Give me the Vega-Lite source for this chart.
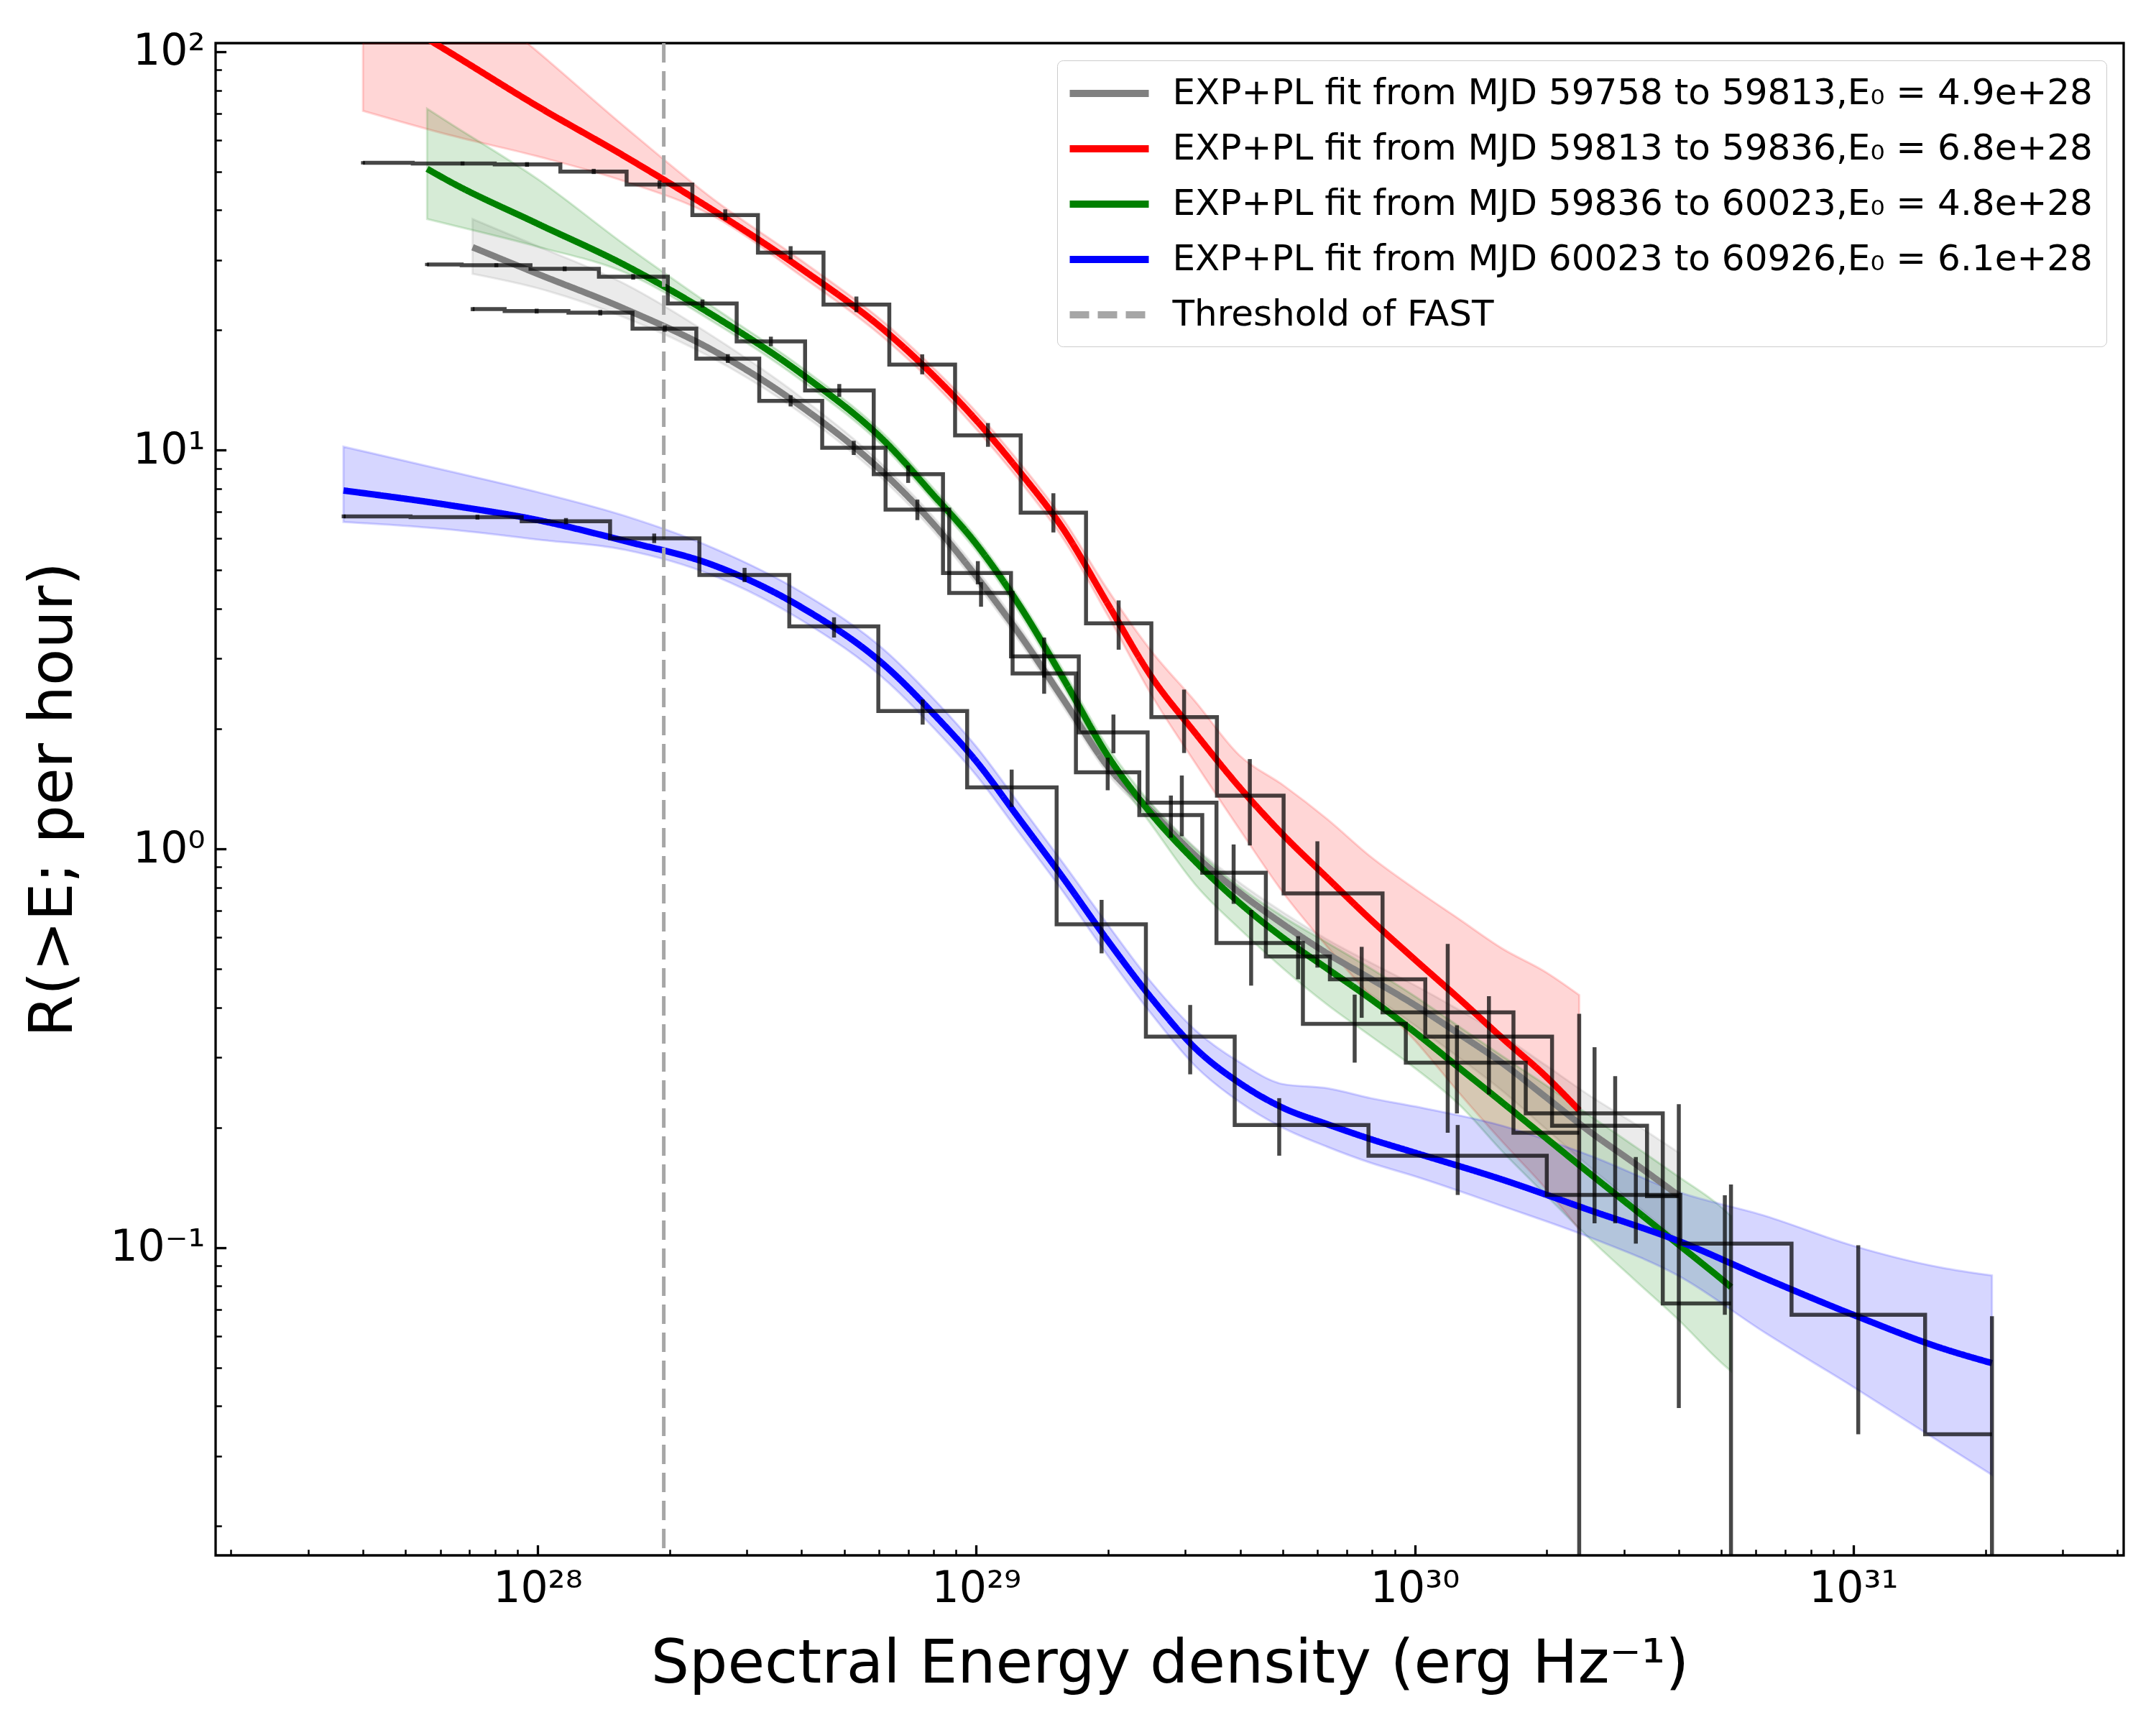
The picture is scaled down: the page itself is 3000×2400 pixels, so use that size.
{
  "$schema": "https://vega.github.io/schema/vega-lite/v6.json",
  "width": 2655,
  "height": 2104,
  "autosize": {"type": "none"},
  "padding": {"left": 300, "top": 60, "right": 45, "bottom": 236},
  "background": "white",
  "config": {
    "font": "DejaVu Sans",
    "view": {"stroke": "black", "strokeWidth": 3.3},
    "legend": {
      "orient": "top-right",
      "offset": 24,
      "padding": 19,
      "rowPadding": 25,
      "labelFont": "DejaVu Sans",
      "labelFontSize": 50,
      "labelColor": "black",
      "labelLimit": 3000,
      "symbolSize": 1936,
      "symbolStrokeWidth": 10,
      "symbolOffset": 26.5,
      "labelOffset": 61,
      "fillColor": "rgba(255,255,255,0.8)",
      "strokeColor": "#cccccc",
      "cornerRadius": 8
    }
  },
  "datasets": {
    "fits": [
      {"s": "p1", "x": 7.11e27, "y": 32.3, "lo": 27.7, "hi": 38.0},
      {"s": "p1", "x": 1e28, "y": 27.7, "lo": 25.5, "hi": 32.5},
      {"s": "p1", "x": 1.585e28, "y": 22.6, "lo": 21.5, "hi": 26.1},
      {"s": "p1", "x": 2.512e28, "y": 17.8, "lo": 17.0, "hi": 19.3},
      {"s": "p1", "x": 3.981e28, "y": 12.9, "lo": 12.4, "hi": 13.6},
      {"s": "p1", "x": 6.31e28, "y": 8.55, "lo": 8.20, "hi": 8.91},
      {"s": "p1", "x": 7.943e28, "y": 6.58, "lo": 6.31, "hi": 6.85},
      {"s": "p1", "x": 1e29, "y": 4.83, "lo": 4.63, "hi": 5.04},
      {"s": "p1", "x": 1.259e29, "y": 3.44, "lo": 3.30, "hi": 3.59},
      {"s": "p1", "x": 1.585e29, "y": 2.36, "lo": 2.26, "hi": 2.45},
      {"s": "p1", "x": 1.995e29, "y": 1.611, "lo": 1.545, "hi": 1.679},
      {"s": "p1", "x": 2.512e29, "y": 1.242, "lo": 1.191, "hi": 1.294},
      {"s": "p1", "x": 3.162e29, "y": 0.962, "lo": 0.918, "hi": 1.007},
      {"s": "p1", "x": 3.981e29, "y": 0.778, "lo": 0.735, "hi": 0.824},
      {"s": "p1", "x": 5.012e29, "y": 0.647, "lo": 0.604, "hi": 0.693},
      {"s": "p1", "x": 6.31e29, "y": 0.547, "lo": 0.505, "hi": 0.593},
      {"s": "p1", "x": 7.943e29, "y": 0.472, "lo": 0.431, "hi": 0.518},
      {"s": "p1", "x": 1e30, "y": 0.406, "lo": 0.361, "hi": 0.455},
      {"s": "p1", "x": 1.259e30, "y": 0.344, "lo": 0.300, "hi": 0.395},
      {"s": "p1", "x": 1.585e30, "y": 0.290, "lo": 0.247, "hi": 0.340},
      {"s": "p1", "x": 1.995e30, "y": 0.238, "lo": 0.198, "hi": 0.286},
      {"s": "p1", "x": 2.512e30, "y": 0.195, "lo": 0.159, "hi": 0.240},
      {"s": "p1", "x": 3.162e30, "y": 0.163, "lo": 0.129, "hi": 0.205},
      {"s": "p1", "x": 4.0e30, "y": 0.135, "lo": 0.104, "hi": 0.173},

      {"s": "p2", "x": 4.0e27, "y": 134.9, "lo": 71.0, "hi": 239.9},
      {"s": "p2", "x": 6.31e27, "y": 99.5, "lo": 61.7, "hi": 151.4},
      {"s": "p2", "x": 1e28, "y": 72.9, "lo": 54.6, "hi": 100},
      {"s": "p2", "x": 1.585e28, "y": 54.5, "lo": 47.2, "hi": 64.6},
      {"s": "p2", "x": 2.512e28, "y": 40.0, "lo": 38.7, "hi": 42.7},
      {"s": "p2", "x": 3.981e28, "y": 28.6, "lo": 27.4, "hi": 30.0},
      {"s": "p2", "x": 6.31e28, "y": 19.6, "lo": 18.7, "hi": 20.5},
      {"s": "p2", "x": 7.943e28, "y": 15.5, "lo": 14.8, "hi": 16.2},
      {"s": "p2", "x": 1e29, "y": 11.9, "lo": 11.3, "hi": 12.5},
      {"s": "p2", "x": 1.259e29, "y": 8.81, "lo": 8.36, "hi": 9.29},
      {"s": "p2", "x": 1.585e29, "y": 6.31, "lo": 5.96, "hi": 6.68},
      {"s": "p2", "x": 1.995e29, "y": 4.12, "lo": 3.85, "hi": 4.47},
      {"s": "p2", "x": 2.512e29, "y": 2.70, "lo": 2.43, "hi": 3.13},
      {"s": "p2", "x": 3.162e29, "y": 1.95, "lo": 1.64, "hi": 2.34},
      {"s": "p2", "x": 3.981e29, "y": 1.43, "lo": 1.122, "hi": 1.718},
      {"s": "p2", "x": 5.012e29, "y": 1.084, "lo": 0.776, "hi": 1.445},
      {"s": "p2", "x": 6.31e29, "y": 0.847, "lo": 0.569, "hi": 1.189},
      {"s": "p2", "x": 7.943e29, "y": 0.664, "lo": 0.427, "hi": 0.955},
      {"s": "p2", "x": 1e30, "y": 0.528, "lo": 0.331, "hi": 0.794},
      {"s": "p2", "x": 1.259e30, "y": 0.422, "lo": 0.245, "hi": 0.668},
      {"s": "p2", "x": 1.585e30, "y": 0.335, "lo": 0.184, "hi": 0.562},
      {"s": "p2", "x": 1.995e30, "y": 0.268, "lo": 0.140, "hi": 0.490},
      {"s": "p2", "x": 2.371e30, "y": 0.221, "lo": 0.111, "hi": 0.430},

      {"s": "p3", "x": 5.6e27, "y": 50.8, "lo": 38.0, "hi": 71.9},
      {"s": "p3", "x": 6.31e27, "y": 47.2, "lo": 36.8, "hi": 66.1},
      {"s": "p3", "x": 1e28, "y": 37.0, "lo": 32.4, "hi": 47.9},
      {"s": "p3", "x": 1.585e28, "y": 29.1, "lo": 27.9, "hi": 32.7},
      {"s": "p3", "x": 2.512e28, "y": 21.8, "lo": 21.0, "hi": 22.9},
      {"s": "p3", "x": 3.981e28, "y": 15.6, "lo": 15.0, "hi": 16.2},
      {"s": "p3", "x": 6.31e28, "y": 10.3, "lo": 9.93, "hi": 10.7},
      {"s": "p3", "x": 7.943e28, "y": 7.78, "lo": 7.50, "hi": 8.09},
      {"s": "p3", "x": 1e29, "y": 5.82, "lo": 5.60, "hi": 6.05},
      {"s": "p3", "x": 1.259e29, "y": 4.06, "lo": 3.89, "hi": 4.23},
      {"s": "p3", "x": 1.585e29, "y": 2.66, "lo": 2.54, "hi": 2.79},
      {"s": "p3", "x": 1.995e29, "y": 1.714, "lo": 1.629, "hi": 1.803},
      {"s": "p3", "x": 2.512e29, "y": 1.222, "lo": 1.148, "hi": 1.294},
      {"s": "p3", "x": 3.162e29, "y": 0.929, "lo": 0.813, "hi": 1.0},
      {"s": "p3", "x": 3.981e29, "y": 0.733, "lo": 0.631, "hi": 0.804},
      {"s": "p3", "x": 5.012e29, "y": 0.598, "lo": 0.501, "hi": 0.676},
      {"s": "p3", "x": 6.31e29, "y": 0.501, "lo": 0.407, "hi": 0.582},
      {"s": "p3", "x": 7.943e29, "y": 0.420, "lo": 0.339, "hi": 0.501},
      {"s": "p3", "x": 1e30, "y": 0.347, "lo": 0.282, "hi": 0.427},
      {"s": "p3", "x": 1.259e30, "y": 0.283, "lo": 0.229, "hi": 0.359},
      {"s": "p3", "x": 1.585e30, "y": 0.231, "lo": 0.174, "hi": 0.302},
      {"s": "p3", "x": 1.995e30, "y": 0.188, "lo": 0.135, "hi": 0.255},
      {"s": "p3", "x": 2.512e30, "y": 0.153, "lo": 0.105, "hi": 0.214},
      {"s": "p3", "x": 3.162e30, "y": 0.125, "lo": 0.0832, "hi": 0.180},
      {"s": "p3", "x": 3.981e30, "y": 0.102, "lo": 0.0661, "hi": 0.151},
      {"s": "p3", "x": 5.012e30, "y": 0.0832, "lo": 0.0513, "hi": 0.126},
      {"s": "p3", "x": 5.26e30, "y": 0.0796, "lo": 0.049, "hi": 0.120},

      {"s": "p4", "x": 3.61e27, "y": 7.925, "lo": 6.607, "hi": 10.21},
      {"s": "p4", "x": 6.31e27, "y": 7.278, "lo": 6.324, "hi": 8.851},
      {"s": "p4", "x": 1e28, "y": 6.683, "lo": 5.970, "hi": 7.852},
      {"s": "p4", "x": 1.585e28, "y": 5.916, "lo": 5.623, "hi": 6.839},
      {"s": "p4", "x": 2.512e28, "y": 5.152, "lo": 4.853, "hi": 5.689},
      {"s": "p4", "x": 3.981e28, "y": 4.046, "lo": 3.758, "hi": 4.416},
      {"s": "p4", "x": 6.31e28, "y": 2.831, "lo": 2.612, "hi": 3.090},
      {"s": "p4", "x": 7.943e28, "y": 2.198, "lo": 2.028, "hi": 2.399},
      {"s": "p4", "x": 1e29, "y": 1.660, "lo": 1.531, "hi": 1.807},
      {"s": "p4", "x": 1.259e29, "y": 1.183, "lo": 1.091, "hi": 1.288},
      {"s": "p4", "x": 1.585e29, "y": 0.841, "lo": 0.776, "hi": 0.916},
      {"s": "p4", "x": 1.995e29, "y": 0.589, "lo": 0.540, "hi": 0.646},
      {"s": "p4", "x": 2.512e29, "y": 0.422, "lo": 0.385, "hi": 0.462},
      {"s": "p4", "x": 3.162e29, "y": 0.316, "lo": 0.285, "hi": 0.351},
      {"s": "p4", "x": 3.981e29, "y": 0.259, "lo": 0.232, "hi": 0.292},
      {"s": "p4", "x": 5.012e29, "y": 0.224, "lo": 0.1995, "hi": 0.257},
      {"s": "p4", "x": 6.31e29, "y": 0.204, "lo": 0.179, "hi": 0.251},
      {"s": "p4", "x": 7.943e29, "y": 0.187, "lo": 0.163, "hi": 0.237},
      {"s": "p4", "x": 1e30, "y": 0.173, "lo": 0.151, "hi": 0.226},
      {"s": "p4", "x": 1.585e30, "y": 0.148, "lo": 0.127, "hi": 0.202},
      {"s": "p4", "x": 2.512e30, "y": 0.124, "lo": 0.106, "hi": 0.170},
      {"s": "p4", "x": 3.981e30, "y": 0.104, "lo": 0.0851, "hi": 0.138},
      {"s": "p4", "x": 6.31e30, "y": 0.0836, "lo": 0.0610, "hi": 0.120},
      {"s": "p4", "x": 1e31, "y": 0.0678, "lo": 0.0447, "hi": 0.101},
      {"s": "p4", "x": 1.585e31, "y": 0.0560, "lo": 0.0324, "hi": 0.0891},
      {"s": "p4", "x": 2.07e31, "y": 0.0513, "lo": 0.0269, "hi": 0.0851}
    ],
    "thr": [
      {"s": "fast", "x": 1.94e28}
    ],
    "hist": [
      {"h": "A", "x": 4.0e27, "y": 52.6, "lo": 52.1, "hi": 53.1},
      {"h": "A", "x": 6.745e27, "y": 52.4, "lo": 51.8, "hi": 53.0},
      {"h": "A", "x": 9.462e27, "y": 52.1, "lo": 51.4, "hi": 52.8},
      {"h": "A", "x": 1.343e28, "y": 50.0, "lo": 49.3, "hi": 50.8},
      {"h": "A", "x": 1.897e28, "y": 46.4, "lo": 45.3, "hi": 47.5},
      {"h": "A", "x": 2.679e28, "y": 38.9, "lo": 37.7, "hi": 40.2},
      {"h": "A", "x": 3.776e28, "y": 31.3, "lo": 30.1, "hi": 32.5},
      {"h": "A", "x": 5.333e28, "y": 23.2, "lo": 22.2, "hi": 24.3},
      {"h": "A", "x": 7.534e28, "y": 16.4, "lo": 15.5, "hi": 17.4},
      {"h": "A", "x": 1.064e29, "y": 10.9, "lo": 10.2, "hi": 11.7},
      {"h": "A", "x": 1.5e29, "y": 6.97, "lo": 6.22, "hi": 7.80},
      {"h": "A", "x": 2.113e29, "y": 3.68, "lo": 3.16, "hi": 4.20},
      {"h": "A", "x": 2.979e29, "y": 2.14, "lo": 1.74, "hi": 2.51},
      {"h": "A", "x": 4.207e29, "y": 1.36, "lo": 1.02, "hi": 1.68},
      {"h": "A", "x": 5.998e29, "y": 0.773, "lo": 0.504, "hi": 1.045},
      {"h": "A", "x": 1.189e30, "y": 0.389, "lo": 0.194, "hi": 0.578},
      {"h": "A", "x": 2.371e30, "y": 0.194, "lo": 0.001, "hi": 0.386},

      {"h": "B", "x": 5.598e27, "y": 29.24, "lo": 28.97, "hi": 29.51},
      {"h": "B", "x": 8.054e27, "y": 29.11, "lo": 28.78, "hi": 29.45},
      {"h": "B", "x": 1.153e28, "y": 28.51, "lo": 28.12, "hi": 28.91},
      {"h": "B", "x": 1.652e28, "y": 27.23, "lo": 26.79, "hi": 27.67},
      {"h": "B", "x": 2.377e28, "y": 23.33, "lo": 22.80, "hi": 23.88},
      {"h": "B", "x": 3.404e28, "y": 18.75, "lo": 18.24, "hi": 19.27},
      {"h": "B", "x": 4.875e28, "y": 14.13, "lo": 13.62, "hi": 14.66},
      {"h": "B", "x": 6.998e28, "y": 8.71, "lo": 8.28, "hi": 9.16},
      {"h": "B", "x": 1.009e29, "y": 4.92, "lo": 4.61, "hi": 5.27},
      {"h": "B", "x": 1.429e29, "y": 3.04, "lo": 2.69, "hi": 3.39},
      {"h": "B", "x": 2.056e29, "y": 1.959, "lo": 1.738, "hi": 2.173},
      {"h": "B", "x": 2.944e29, "y": 1.306, "lo": 1.076, "hi": 1.528},
      {"h": "B", "x": 4.236e29, "y": 0.581, "lo": 0.454, "hi": 0.703},
      {"h": "B", "x": 7.295e29, "y": 0.364, "lo": 0.291, "hi": 0.431},
      {"h": "B", "x": 1.248e30, "y": 0.291, "lo": 0.217, "hi": 0.361},
      {"h": "B", "x": 2.57e30, "y": 0.217, "lo": 0.115, "hi": 0.318},
      {"h": "B", "x": 5.26e30, "y": 0.0724, "lo": 0.001, "hi": 0.144},

      {"h": "C", "x": 7.112e27, "y": 22.59, "lo": 22.33, "hi": 22.85},
      {"h": "C", "x": 9.954e27, "y": 22.34, "lo": 22.03, "hi": 22.65},
      {"h": "C", "x": 1.39e28, "y": 22.13, "lo": 21.78, "hi": 22.49},
      {"h": "C", "x": 1.95e28, "y": 20.18, "lo": 19.82, "hi": 20.56},
      {"h": "C", "x": 2.716e28, "y": 16.98, "lo": 16.56, "hi": 17.42},
      {"h": "C", "x": 3.776e28, "y": 13.30, "lo": 12.88, "hi": 13.74},
      {"h": "C", "x": 5.26e28, "y": 10.14, "lo": 9.73, "hi": 10.56},
      {"h": "C", "x": 7.345e28, "y": 7.10, "lo": 6.68, "hi": 7.52},
      {"h": "C", "x": 1.026e29, "y": 4.385, "lo": 4.05, "hi": 4.67},
      {"h": "C", "x": 1.429e29, "y": 2.754, "lo": 2.45, "hi": 3.09},
      {"h": "C", "x": 1.995e29, "y": 1.556, "lo": 1.403, "hi": 1.694},
      {"h": "C", "x": 2.78e29, "y": 1.216, "lo": 1.067, "hi": 1.361},
      {"h": "C", "x": 3.864e29, "y": 0.871, "lo": 0.728, "hi": 1.026},
      {"h": "C", "x": 5.42e29, "y": 0.537, "lo": 0.471, "hi": 0.604},
      {"h": "C", "x": 7.568e29, "y": 0.471, "lo": 0.377, "hi": 0.568},
      {"h": "C", "x": 1.476e30, "y": 0.338, "lo": 0.242, "hi": 0.427},
      {"h": "C", "x": 2.864e30, "y": 0.202, "lo": 0.115, "hi": 0.269},
      {"h": "C", "x": 4.0e30, "y": 0.1346, "lo": 0.0396, "hi": 0.229},

      {"h": "D", "x": 3.614e27, "y": 6.823, "lo": 6.75, "hi": 6.90},
      {"h": "D", "x": 7.295e27, "y": 6.792, "lo": 6.70, "hi": 6.89},
      {"h": "D", "x": 1.161e28, "y": 6.637, "lo": 6.52, "hi": 6.76},
      {"h": "D", "x": 1.845e28, "y": 6.012, "lo": 5.85, "hi": 6.18},
      {"h": "D", "x": 2.965e28, "y": 4.864, "lo": 4.67, "hi": 5.07},
      {"h": "D", "x": 4.742e28, "y": 3.614, "lo": 3.39, "hi": 3.81},
      {"h": "D", "x": 7.551e28, "y": 2.218, "lo": 2.05, "hi": 2.37},
      {"h": "D", "x": 1.205e29, "y": 1.426, "lo": 1.274, "hi": 1.581},
      {"h": "D", "x": 1.932e29, "y": 0.647, "lo": 0.547, "hi": 0.745},
      {"h": "D", "x": 3.076e29, "y": 0.338, "lo": 0.272, "hi": 0.406},
      {"h": "D", "x": 4.909e29, "y": 0.203, "lo": 0.170, "hi": 0.237},
      {"h": "D", "x": 1.253e30, "y": 0.170, "lo": 0.1355, "hi": 0.203},
      {"h": "D", "x": 3.192e30, "y": 0.1355, "lo": 0.1023, "hi": 0.1687},
      {"h": "D", "x": 5.093e30, "y": 0.1023, "lo": 0.0678, "hi": 0.1352},
      {"h": "D", "x": 1.026e31, "y": 0.0678, "lo": 0.034, "hi": 0.1014},
      {"h": "D", "x": 2.07e31, "y": 0.034, "lo": 0.001, "hi": 0.0673}
    ]
  },
  "encoding": {
    "x": {
      "field": "x",
      "type": "quantitative",
      "scale": {"type": "log", "domain": [1.845e27, 4.133e31], "nice": false},
      "axis": {
        "title": "Spectral Energy density (erg Hz⁻¹)",
        "values": [2e27, 3e27, 4e27, 5e27, 6e27, 7e27, 8e27, 9e27, 1e28, 2e28, 3e28, 4e28, 5e28, 6e28, 7e28, 8e28, 9e28, 1e29, 2e29, 3e29, 4e29, 5e29, 6e29, 7e29, 8e29, 9e29, 1e30, 2e30, 3e30, 4e30, 5e30, 6e30, 7e30, 8e30, 9e30, 1e31, 2e31, 3e31, 4e31],
        "labelExpr": "datum.value == 1e28 ? '10²⁸' : datum.value == 1e29 ? '10²⁹' : datum.value == 1e30 ? '10³⁰' : datum.value == 1e31 ? '10³¹' : ''",
        "grid": false,
        "domain": false,
        "tickColor": "black",
        "tickSize": {"condition": {"test": "abs(log(datum.value)/LN10 - round(log(datum.value)/LN10)) < 0.001", "value": -14.6}, "value": -8.3},
        "tickWidth": {"condition": {"test": "abs(log(datum.value)/LN10 - round(log(datum.value)/LN10)) < 0.001", "value": 3.3}, "value": 2.5},
        "labelFont": "DejaVu Sans",
        "labelFontSize": 60,
        "labelColor": "black",
        "labelPadding": 31.6,
        "labelFlush": false,
        "labelOverlap": false,
        "labelBound": false,
        "titleFont": "DejaVu Sans",
        "titleFontSize": 84,
        "titleFontWeight": "normal",
        "titleColor": "black",
        "titlePadding": 28
      }
    }
  },
  "layer": [
    {
      "data": {"name": "fits"},
      "mark": {"type": "area", "interpolate": "monotone", "fillOpacity": 0.16, "strokeOpacity": 0.16, "strokeWidth": 3, "clip": true},
      "encoding": {
        "y": {
          "field": "lo",
          "type": "quantitative",
          "scale": {"type": "log", "domain": [0.0169, 105], "nice": false},
          "axis": {
            "title": "R(>E; per hour)",
            "values": [0.02, 0.03, 0.04, 0.05, 0.06, 0.07, 0.08, 0.09, 0.1, 0.2, 0.3, 0.4, 0.5, 0.6, 0.7, 0.8, 0.9, 1, 2, 3, 4, 5, 6, 7, 8, 9, 10, 20, 30, 40, 50, 60, 70, 80, 90, 100],
            "labelExpr": "datum.value == 0.1 ? '10⁻¹' : datum.value == 1 ? '10⁰' : datum.value == 10 ? '10¹' : datum.value == 100 ? '10²' : ''",
            "grid": false,
            "domain": false,
            "tickColor": "black",
            "tickSize": {"condition": {"test": "abs(log(datum.value)/LN10 - round(log(datum.value)/LN10)) < 0.001", "value": -14.6}, "value": -8.3},
            "tickWidth": {"condition": {"test": "abs(log(datum.value)/LN10 - round(log(datum.value)/LN10)) < 0.001", "value": 3.3}, "value": 2.5},
            "labelFont": "DejaVu Sans",
            "labelFontSize": 60,
            "labelColor": "black",
            "labelPadding": 29.6,
            "labelFlush": false,
            "labelOverlap": false,
            "labelBound": false,
            "titleFont": "DejaVu Sans",
            "titleFontSize": 84,
            "titleFontWeight": "normal",
            "titleColor": "black",
            "titlePadding": 35
          }
        },
        "y2": {"field": "hi"},
        "fill": {"field": "s", "type": "nominal", "scale": {"domain": ["p1", "p2", "p3", "p4"], "range": ["#808080", "#ff0000", "#008000", "#0000ff"]}, "legend": null},
        "stroke": {"field": "s", "type": "nominal", "scale": {"domain": ["p1", "p2", "p3", "p4"], "range": ["#808080", "#ff0000", "#008000", "#0000ff"]}, "legend": null}
      }
    },
    {
      "data": {"name": "fits"},
      "mark": {"type": "line", "interpolate": "monotone", "strokeWidth": 9, "clip": true},
      "encoding": {
        "y": {"field": "y", "type": "quantitative", "scale": {"type": "log", "domain": [0.0169, 105], "nice": false}},
        "color": {
          "field": "s",
          "type": "nominal",
          "scale": {"domain": ["p1", "p2", "p3", "p4", "fast"], "range": ["#808080", "#ff0000", "#008000", "#0000ff", "#a6a6a6"]},
          "legend": {
            "title": null,
            "symbolType": "M-2.5,0L2.5,0",
            "labelExpr": "datum.value == 'p1' ? 'EXP+PL fit from MJD 59758 to 59813,E₀ = 4.9e+28' : datum.value == 'p2' ? 'EXP+PL fit from MJD 59813 to 59836,E₀ = 6.8e+28' : datum.value == 'p3' ? 'EXP+PL fit from MJD 59836 to 60023,E₀ = 4.8e+28' : datum.value == 'p4' ? 'EXP+PL fit from MJD 60023 to 60926,E₀ = 6.1e+28' : 'Threshold of FAST'"
          }
        },
        "strokeDash": {
          "field": "s",
          "type": "nominal",
          "scale": {"domain": ["p1", "p2", "p3", "p4", "fast"], "range": [[1, 0], [1, 0], [1, 0], [1, 0], [27, 12]]}
        }
      }
    },
    {
      "data": {"name": "thr"},
      "mark": {"type": "rule", "strokeWidth": 5},
      "encoding": {
        "color": {"field": "s", "type": "nominal", "scale": {"domain": ["p1", "p2", "p3", "p4", "fast"], "range": ["#808080", "#ff0000", "#008000", "#0000ff", "#a6a6a6"]}},
        "strokeDash": {"field": "s", "type": "nominal", "scale": {"domain": ["p1", "p2", "p3", "p4", "fast"], "range": [[1, 0], [1, 0], [1, 0], [1, 0], [27, 12]]}}
      }
    },
    {
      "data": {"name": "hist"},
      "mark": {"type": "line", "interpolate": "step", "color": "black", "opacity": 0.72, "strokeWidth": 5.5, "strokeJoin": "miter", "clip": true},
      "encoding": {
        "y": {"field": "y", "type": "quantitative", "scale": {"type": "log", "domain": [0.0169, 105], "nice": false}},
        "detail": {"field": "h", "type": "nominal"}
      }
    },
    {
      "data": {"name": "hist"},
      "mark": {"type": "rule", "color": "black", "opacity": 0.72, "strokeWidth": 5.5, "clip": true},
      "encoding": {
        "y": {"field": "lo", "type": "quantitative", "scale": {"type": "log", "domain": [0.0169, 105], "nice": false}},
        "y2": {"field": "hi"}
      }
    }
  ]
}
